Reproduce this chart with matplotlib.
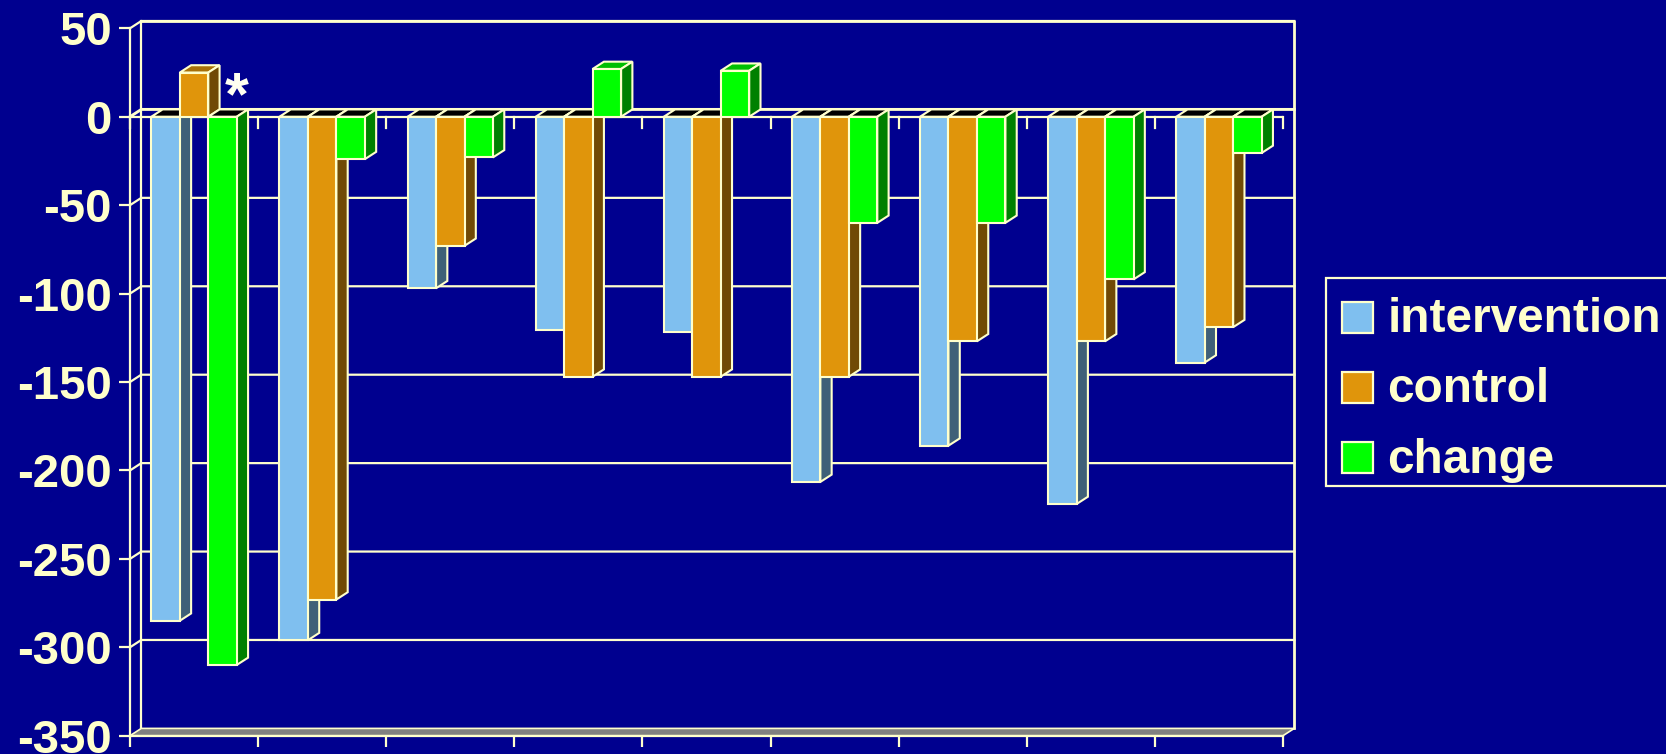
import numpy as np
import matplotlib
matplotlib.use('Agg')
import matplotlib.pyplot as plt
from matplotlib.patches import Polygon, Patch, Rectangle
from matplotlib.legend_handler import HandlerPatch

plt.rcParams['font.family'] = ['Liberation Sans', 'DejaVu Sans']
plt.rcParams['axes.unicode_minus'] = False

# Values
intervention = [-285, -296, -97, -120.5, -122, -206.5, -186, -219, -139]
control = [25, -273, -73, -147, -147, -147, -127, -127, -119]
change = [-310, -24, -23, 27, 26, -60, -60, -92, -20.5]
series_names = ['intervention', 'control', 'change']
y_ticks = [50, 0, -50, -100, -150, -200, -250, -300, -350]

BG = '#00008F'
CREAM = '#FFFFCC'
front_cols = ['#7FBFEF', '#E0950B', '#00FF00']
side_cols = ['#3F6078', '#704A05', '#008000']
top_cols = ['#5F90B4', '#A87008', '#00BF00']

W, H = 1666, 754
fig = plt.figure(figsize=(W / 100, H / 100), dpi=100, facecolor=BG)
# front plane of the fake 3d box, in pixels
left, right, top, bottom = 130, 1283, 28.3, 735.7
ax = fig.add_axes([left / W, 1 - bottom / H, (right - left) / W, (bottom - top) / H], facecolor='none')
ax.set_xlim(0, 9)
ax.set_ylim(-350, 50)

# depth of the box, in data units
dx = 11.3 / ((right - left) / 9)
dy = 7.3 / ((bottom - top) / 400)
lw = 1.6

# back wall
ax.plot([dx, 9 + dx, 9 + dx], [50 + dy, 50 + dy, -350 + dy], color=CREAM, lw=lw + 0.4, zorder=1, clip_on=False)
ax.plot([dx, dx], [50 + dy, -350 + dy], color=CREAM, lw=lw, zorder=1, clip_on=False)
for t in y_ticks:
    if t != -350:
        ax.plot([0, dx, 9 + dx], [t, t + dy, t + dy], color=CREAM, lw=lw if t != 0 else lw + 0.5, zorder=1,
                clip_on=False)
ax.add_patch(Polygon([(0, -350), (9, -350), (9 + dx, -350 + dy), (dx, -350 + dy)], fc='#808080', ec='none',
                     zorder=1, clip_on=False))
ax.plot([0, dx, 9 + dx], [-350, -350 + dy, -350 + dy], color=CREAM, lw=1.2, zorder=1.5, clip_on=False)
ax.plot([0, 9, 9 + dx], [-350, -350, -350 + dy], color=CREAM, lw=1.2, zorder=1.5, clip_on=False)

# axis line at zero with its ticks
tick_len = 11 / ((bottom - top) / 400)
ax.plot([0, 9], [0, 0], color=CREAM, lw=lw, zorder=1.5)
for i in range(10):
    ax.plot([i, i], [0, -tick_len], color=CREAM, lw=lw, zorder=1.5, clip_on=False)

# bars, drawn left to right so that each one hides the side of the one before
bar_w = 1 / 4.5
all_series = [intervention, control, change]
z = 2
for c in range(9):
    for s, vals in enumerate(all_series):
        v = vals[c]
        x0 = c + 0.75 * bar_w + s * bar_w
        x1 = x0 + bar_w
        ec = dict(ec=CREAM, lw=1.5, clip_on=False, joinstyle='miter')
        if v < 0:
            ax.add_patch(Polygon([(x0, 0), (x1, 0), (x1 + dx, dy), (x0 + dx, dy)], fc='black', zorder=z, **ec))
            ax.add_patch(Polygon([(x1, 0), (x1 + dx, dy), (x1 + dx, v + dy), (x1, v)], fc=side_cols[s], zorder=z, **ec))
        else:
            ax.add_patch(Polygon([(x0, v), (x1, v), (x1 + dx, v + dy), (x0 + dx, v + dy)], fc=top_cols[s], zorder=z, **ec))
            ax.add_patch(Polygon([(x1, 0), (x1 + dx, dy), (x1 + dx, v + dy), (x1, v)], fc=side_cols[s], zorder=z, **ec))
        ax.bar(x0, v, width=bar_w, align='edge', color=front_cols[s], edgecolor=CREAM, linewidth=1.5,
               zorder=z + 0.5, clip_on=False)
        z += 1

ax.text(0.83, 10, '*', color='#FFFFF0', fontsize=44, fontweight='bold', ha='center', va='center', zorder=z)

# axes
for name in ['top', 'right']:
    ax.spines[name].set_visible(False)
for name in ['left', 'bottom']:
    ax.spines[name].set_color(CREAM)
    ax.spines[name].set_linewidth(lw)
ax.set_yticks(y_ticks)
ax.set_xticks(range(10))
ax.set_xticklabels([])
ax.tick_params(axis='y', colors=CREAM, length=8, width=lw, pad=5, labelsize=34)
ax.tick_params(axis='x', colors=CREAM, length=8, width=lw)
for lab in ax.get_yticklabels():
    lab.set_fontweight('bold')

# legend box runs off the right edge of the picture like in the original
fig.add_artist(Rectangle((1325.5 / W, 1 - 486 / H), 400 / W, 208 / H, transform=fig.transFigure,
                         fc=BG, ec=CREAM, lw=lw, zorder=3))
handles = [Patch(fc=front_cols[i], ec=CREAM, lw=lw) for i in range(3)]
leg = fig.legend(handles, series_names, loc='upper left', bbox_to_anchor=(1323 / W, 1 - 278 / H),
                 bbox_transform=fig.transFigure, borderaxespad=0,
                 prop={'weight': 'bold', 'size': 34.4}, labelcolor=CREAM, frameon=False,
                 handlelength=0.65, handleheight=0.5, handletextpad=0.3, labelspacing=0.53, borderpad=0.4,
                 handler_map={Patch: HandlerPatch(ypad=-0.08)})
leg.set_zorder(4)

fig.savefig('out.png', dpi=100, facecolor=BG)
